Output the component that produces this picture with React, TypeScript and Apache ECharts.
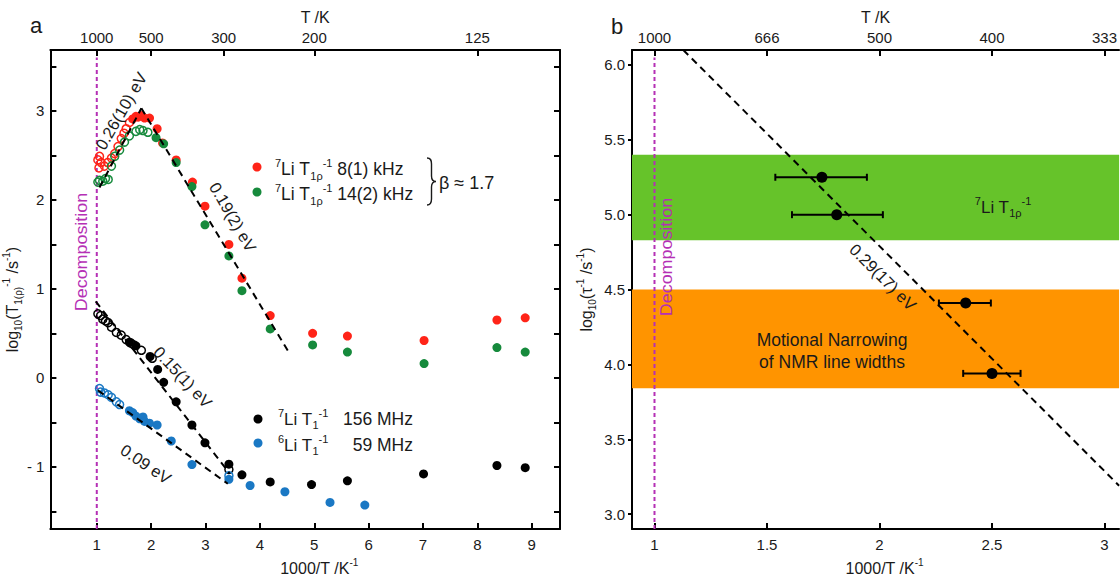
import React, { useEffect, useRef } from "react";
import * as echarts from "echarts";

const FONT = '"Liberation Sans", Arial, Helvetica, sans-serif';
const TXT = "#1a1a1a";
const MAG = "#b530b5";
const RED = "#ff2418";
const GREEN = "#168a3c";
const BLUE = "#1a78c4";
const BLACK = "#000000";
const BAND_GREEN = "#66c32a";
const BAND_ORANGE = "#ff9400";

// ---------- Panel a : log10(T1(rho)^-1 / s^-1) vs 1000/T ----------
const rho8kHzOpen = [
  [1.02, 2.45], [1.04, 2.36], [1.05, 2.49], [1.08, 2.42], [1.14, 2.38], [1.2, 2.42],
  [1.27, 2.47], [1.33, 2.52], [1.39, 2.6], [1.45, 2.69], [1.5, 2.75], [1.54, 2.8], [1.6, 2.87],
];
const rho8kHzFilled = [
  [1.66, 2.91], [1.72, 2.94], [1.76, 2.93], [1.82, 2.95], [1.88, 2.92], [1.97, 2.92],
  [2.11, 2.8], [2.21, 2.64], [2.46, 2.45], [2.76, 2.2], [2.99, 1.93], [3.43, 1.5],
  [3.67, 1.12], [4.19, 0.7], [4.97, 0.5], [5.61, 0.47], [7.02, 0.42], [8.36, 0.65], [8.88, 0.675],
];
const rho14kHzOpen = [
  [1.02, 2.2], [1.05, 2.22], [1.11, 2.21], [1.16, 2.24], [1.21, 2.23], [1.27, 2.38],
  [1.33, 2.49], [1.42, 2.56], [1.51, 2.65], [1.6, 2.72], [1.72, 2.77], [1.79, 2.79],
  [1.85, 2.78], [1.94, 2.76],
];
const rho14kHzFilled = [
  [2.09, 2.7], [2.23, 2.63], [2.46, 2.42], [2.75, 2.15], [2.99, 1.72], [3.43, 1.37],
  [3.67, 0.98], [4.19, 0.55], [4.97, 0.37], [5.61, 0.29], [7.02, 0.16], [8.36, 0.34], [8.88, 0.29],
];
const t1Li7Open = [
  [1.02, 0.72], [1.07, 0.7], [1.11, 0.66], [1.16, 0.64], [1.21, 0.62], [1.27, 0.57],
  [1.36, 0.51], [1.45, 0.48], [1.54, 0.43], [1.63, 0.39], [1.68, 0.37], [1.82, 0.31],
  [2.02, 0.22], [3.43, -1.03],
];
const t1Li7Filled = [
  [1.6, 0.4], [1.72, 0.36], [1.98, 0.24], [2.12, 0.095], [2.23, -0.05], [2.46, -0.27],
  [2.75, -0.53], [2.99, -0.73], [3.43, -0.97], [3.67, -1.09], [4.19, -1.17], [4.95, -1.2],
  [5.61, -1.157], [7.01, -1.08], [8.36, -0.985], [8.88, -1.01],
];
const t1Li6Open = [
  [1.05, -0.12], [1.07, -0.16], [1.14, -0.17], [1.21, -0.19], [1.27, -0.22], [1.36, -0.27],
  [1.42, -0.3], [3.43, -1.1],
];
const t1Li6Filled = [
  [1.6, -0.37], [1.66, -0.39], [1.72, -0.43], [1.79, -0.46], [1.85, -0.44], [1.88, -0.49],
  [1.97, -0.51], [2.11, -0.53], [2.37, -0.71], [2.75, -0.975], [3.43, -1.14], [3.82, -1.21],
  [4.46, -1.28], [5.29, -1.4], [5.93, -1.43],
];
const fit026 = [[1.05, 2.14], [1.82, 3.03]];
const fit019 = [[1.82, 3.03], [4.53, 0.29]];
const fit015 = [[0.98, 0.86], [3.44, -1.07]];
const fit009 = [[1.02, -0.14], [3.41, -1.19]];

const aXTicks = [1, 2, 3, 4, 5, 6, 7, 8, 9];
const aYTicks = [-1.5, -1, -0.5, 0, 0.5, 1, 1.5, 2, 2.5, 3, 3.5];
const aYLabels = [-1, 0, 1, 2, 3];
const aTopTickValues = [1, 2, 10 / 3, 5, 8];
const aTopTickLabels = ["1000", "500", "300", "200", "125"];

// ---------- Panel b : log10(tau^-1 / s^-1) vs 1000/T ----------
const tauPoints = [[1.744, 5.25], [1.81, 5.0], [2.383, 4.41], [2.5, 3.94]];
const tauXErrLow = [1.537, 1.611, 2.264, 2.372];
const tauXErrHigh = [1.944, 2.015, 2.495, 2.627];
const fit029 = [[1.128, 6.1], [3.065, 3.19]];
const bandT1rho = [4.83, 5.4];
const bandNarrowing = [3.84, 4.5];
const bXTicks = [1, 1.5, 2, 2.5, 3];
const bYTicks = [3, 3.5, 4, 4.5, 5, 5.5, 6];
const bTopTickValues = [1, 1.5, 2, 2.5, 3];
const bTopTickLabels = ["1000", "666", "500", "400", "333"];
const decompositionX = 1;

// axis ranges
const A_XMIN = 0.147, A_XMAX = 9.52, A_YMIN = -1.7, A_YMAX = 3.685;
const B_XMIN = 0.9, B_XMAX = 3.065, B_YMIN = 2.9, B_YMAX = 6.1;

// curly brace shape for the beta annotation
echarts.graphic.registerShape(
  "brace",
  echarts.graphic.extendPath(
    "M0,0 C3.5,0 4.5,2 4.5,6 L4.5,18 C4.5,21.5 6,23.5 9,23.5 C6,23.5 4.5,25.5 4.5,29 L4.5,41 C4.5,45 3.5,47 0,47",
    {}
  )
);

const rich = (size: number, color = TXT) => ({
  sup: { fontSize: Math.round(size * 0.62), verticalAlign: "top", fontFamily: FONT, color },
  sub: { fontSize: Math.round(size * 0.62), verticalAlign: "bottom", fontFamily: FONT, color },
});

const pickLabel = (vals: number[], labels: string[]) => (v: number) => {
  let best = 0;
  for (let i = 1; i < vals.length; i++) if (Math.abs(vals[i] - v) < Math.abs(vals[best] - v)) best = i;
  return labels[best];
};

const lineAxis = { show: true, onZero: false, lineStyle: { color: BLACK, width: 2 } };
const tickStyle = { color: BLACK, width: 2 };
const labelStyle = { fontSize: 15, fontFamily: FONT, color: TXT };

const text = (
  x: number, y: number, t: string, size: number,
  opt: { rot?: number; align?: string; color?: string; scaleX?: number } = {}
) => ({
  type: "text",
  x, y,
  rotation: ((opt.rot || 0) * Math.PI) / 180,
  scaleX: opt.scaleX || 1,
  silent: true,
  z: 50,
  style: {
    text: t,
    fontSize: size,
    fontFamily: FONT,
    fill: opt.color || TXT,
    align: opt.align || "center",
    verticalAlign: "middle",
    lineHeight: Math.round(size * 1.35),
    rich: rich(size, opt.color || TXT),
  },
});

const dot = (x: number, y: number, color: string) => ({
  type: "circle", shape: { cx: x, cy: y, r: 4.5 }, style: { fill: color }, silent: true, z: 50,
});

const openScatter = (data: number[][], color: string) => ({
  type: "scatter", xAxisIndex: 0, yAxisIndex: 0, data, symbol: "circle", symbolSize: 8,
  itemStyle: { color: "rgba(255,255,255,0)", borderColor: color, borderWidth: 1.5, opacity: 1 }, z: 3,
});
const filledScatter = (data: number[][], color: string) => ({
  type: "scatter", xAxisIndex: 0, yAxisIndex: 0, data, symbol: "circle", symbolSize: 9,
  itemStyle: { color, opacity: 1 }, z: 4,
});
const fitLine = (data: number[][], xi: number, yi: number) => ({
  type: "line", xAxisIndex: xi, yAxisIndex: yi, data, symbol: "none", silent: true,
  lineStyle: { color: BLACK, width: 2, type: [7, 5] }, z: 6,
});

export default function App() {
  const ref = useRef<HTMLDivElement>(null);
  useEffect(() => {
    if (!ref.current) return;
    const chart = echarts.init(ref.current, null, { renderer: "svg" });
    const option: any = {
      animation: false,
      backgroundColor: "#ffffff",
      grid: [
        { left: 49, top: 50, width: 511, height: 495 },
        { left: 632, top: 50, width: 488, height: 497 },
      ],
      xAxis: [
        {
          gridIndex: 0, type: "value", position: "bottom", min: A_XMIN, max: A_XMAX,
          axisLine: lineAxis,
          axisTick: { show: true, inside: true, length: 6, lineStyle: tickStyle, customValues: aXTicks },
          axisLabel: { ...labelStyle, margin: 8, customValues: aXTicks },
          splitLine: { show: false },
          name: "1000/T /K{sup|-1}", nameLocation: "middle", nameGap: 21,
          nameTextStyle: { fontSize: 16, fontFamily: FONT, color: TXT, lineHeight: 22, rich: rich(16), padding: [0, 0, 0, 28] },
        },
        {
          gridIndex: 0, type: "value", position: "top", min: A_XMIN, max: A_XMAX,
          axisLine: lineAxis,
          axisTick: { show: true, inside: true, length: 6, lineStyle: tickStyle, customValues: aTopTickValues },
          axisLabel: { ...labelStyle, margin: 5, customValues: aTopTickValues, formatter: pickLabel(aTopTickValues, aTopTickLabels) },
          splitLine: { show: false },
          name: "T /K", nameLocation: "middle", nameGap: 18,
          nameTextStyle: { fontSize: 16, fontFamily: FONT, color: TXT, padding: [0, 0, 0, 20] },
        },
        {
          gridIndex: 1, type: "value", position: "bottom", min: B_XMIN, max: B_XMAX,
          axisLine: lineAxis,
          axisTick: { show: true, inside: true, length: 6, lineStyle: tickStyle, customValues: bXTicks },
          axisLabel: { ...labelStyle, margin: 8, customValues: bXTicks },
          splitLine: { show: false },
          name: "1000/T /K{sup|-1}", nameLocation: "middle", nameGap: 21,
          nameTextStyle: { fontSize: 16, fontFamily: FONT, color: TXT, lineHeight: 22, rich: rich(16), padding: [0, 0, 0, 18] },
        },
        {
          gridIndex: 1, type: "value", position: "top", min: B_XMIN, max: B_XMAX,
          axisLine: lineAxis,
          axisTick: { show: true, inside: true, length: 6, lineStyle: tickStyle, customValues: bTopTickValues },
          axisLabel: { ...labelStyle, margin: 5, customValues: bTopTickValues, formatter: pickLabel(bTopTickValues, bTopTickLabels) },
          splitLine: { show: false },
          name: "T /K", nameLocation: "middle", nameGap: 18,
          nameTextStyle: { fontSize: 16, fontFamily: FONT, color: TXT, padding: [0, 0, 0, 0] },
        },
      ],
      yAxis: [
        {
          gridIndex: 0, type: "value", position: "left", min: A_YMIN, max: A_YMAX,
          axisLine: lineAxis,
          axisTick: { show: true, inside: true, length: 6, lineStyle: tickStyle, customValues: aYTicks },
          axisLabel: { ...labelStyle, margin: 6, customValues: aYLabels, formatter: (v: number) => (v < 0 ? "- " + Math.abs(v) : String(v)) },
          splitLine: { show: false },
          name: "log{sub|10}(T{sub|1(ρ)}{sup|-1} /s{sup|-1})", nameLocation: "middle", nameGap: 18,
          nameTextStyle: { fontSize: 16, fontFamily: FONT, color: TXT, lineHeight: 22, rich: rich(16), padding: [0, 20, 0, 0] },
        },
        {
          gridIndex: 0, type: "value", position: "right", min: A_YMIN, max: A_YMAX,
          axisLine: lineAxis,
          axisTick: { show: true, inside: true, length: 6, lineStyle: tickStyle, customValues: aYTicks },
          axisLabel: { show: false },
          splitLine: { show: false },
        },
        {
          gridIndex: 1, type: "value", position: "left", min: B_YMIN, max: B_YMAX,
          axisLine: lineAxis,
          axisTick: { show: true, inside: false, length: 4, lineStyle: tickStyle, customValues: bYTicks },
          axisLabel: { ...labelStyle, margin: 7, customValues: bYTicks, formatter: (v: number) => v.toFixed(1) },
          splitLine: { show: false },
          name: "log{sub|10}(τ{sup|-1} /s{sup|-1})", nameLocation: "middle", nameGap: 35,
          nameTextStyle: { fontSize: 16, fontFamily: FONT, color: TXT, lineHeight: 22, rich: rich(16) },
        },
      ],
      series: [
        // panel a
        {
          type: "line", xAxisIndex: 0, yAxisIndex: 0, symbol: "none", silent: true, z: 2,
          data: [[decompositionX, A_YMIN], [decompositionX, 3.6]],
          lineStyle: { color: MAG, width: 2, type: [4, 3] },
        },
        openScatter(rho8kHzOpen, RED),
        openScatter(rho14kHzOpen, GREEN),
        openScatter(t1Li7Open, BLACK),
        openScatter(t1Li6Open, BLUE),
        filledScatter(rho8kHzFilled, RED),
        filledScatter(rho14kHzFilled, GREEN),
        filledScatter(t1Li7Filled, BLACK),
        filledScatter(t1Li6Filled, BLUE),
        fitLine(fit026, 0, 0),
        fitLine(fit019, 0, 0),
        fitLine(fit015, 0, 0),
        fitLine(fit009, 0, 0),
        // panel b
        {
          type: "custom", xAxisIndex: 2, yAxisIndex: 2, silent: true, z: 1, clip: true,
          data: [[bandT1rho[0], bandT1rho[1]], [bandNarrowing[0], bandNarrowing[1]]],
          renderItem: (params: any, api: any) => {
            const lo = api.value(0), hi = api.value(1);
            const p0 = api.coord([B_XMIN, hi]);
            const p1 = api.coord([B_XMAX, lo]);
            return {
              type: "rect",
              shape: { x: p0[0], y: p0[1], width: p1[0] - p0[0], height: p1[1] - p0[1] },
              style: { fill: params.dataIndex === 0 ? BAND_GREEN : BAND_ORANGE },
            };
          },
        },
        {
          type: "line", xAxisIndex: 2, yAxisIndex: 2, symbol: "none", silent: true, z: 2,
          data: [[decompositionX, B_YMIN], [decompositionX, 6.05]],
          lineStyle: { color: MAG, width: 2, type: [4, 3] },
        },
        fitLine(fit029, 2, 2),
        {
          type: "custom", xAxisIndex: 2, yAxisIndex: 2, silent: true, z: 7,
          data: tauPoints.map((p, i) => [p[0], p[1], tauXErrLow[i], tauXErrHigh[i]]),
          renderItem: (_params: any, api: any) => {
            const y = api.value(1);
            const a = api.coord([api.value(2), y]);
            const b = api.coord([api.value(3), y]);
            const st = { stroke: BLACK, lineWidth: 2 };
            return {
              type: "group",
              children: [
                { type: "line", shape: { x1: a[0], y1: a[1], x2: b[0], y2: b[1] }, style: st },
                { type: "line", shape: { x1: a[0], y1: a[1] - 3.5, x2: a[0], y2: a[1] + 3.5 }, style: st },
                { type: "line", shape: { x1: b[0], y1: b[1] - 3.5, x2: b[0], y2: b[1] + 3.5 }, style: st },
              ],
            };
          },
        },
        {
          type: "scatter", xAxisIndex: 2, yAxisIndex: 2, data: tauPoints, symbol: "circle",
          symbolSize: 11, itemStyle: { color: BLACK, opacity: 1 }, z: 8,
        },
      ],
      graphic: [
        text(36, 25, "a", 22),
        text(617, 26, "b", 22),
        // panel a annotations
        text(82, 252, "Decomposition", 16, { rot: 90, color: MAG, scaleX: 1.12 }),
        text(121, 111, "0.26(10) eV", 16.5, { rot: 60 }),
        text(233, 217, "0.19(2) eV", 16.5, { rot: -60 }),
        text(183, 377, "0.15(1) eV", 16.5, { rot: -47 }),
        text(146, 464, "0.09 eV", 16.5, { rot: -34 }),
        // legends
        dot(257, 167, RED),
        text(275, 169, "{sup|7}Li T{sub|1ρ}{sup|-1} 8(1) kHz", 17.5, { align: "left" }),
        dot(257, 192, GREEN),
        text(275, 194, "{sup|7}Li T{sub|1ρ}{sup|-1} 14(2) kHz", 17.5, { align: "left" }),
        {
          type: "brace", x: 427, y: 158, silent: true, z: 50,
          style: { stroke: TXT, fill: "none", lineWidth: 1.4 },
        },
        text(439, 183, "β ≈ 1.7", 18, { align: "left" }),
        dot(258, 419, BLACK),
        text(278, 419, "{sup|7}Li T{sub|1}{sup|-1}", 17, { align: "left" }),
        text(413, 419, "156 MHz", 17.5, { align: "right" }),
        dot(258, 443, BLUE),
        text(278, 445, "{sup|6}Li T{sub|1}{sup|-1}", 17, { align: "left" }),
        text(413, 445, "59 MHz", 17.5, { align: "right" }),
        // panel b annotations
        text(667, 257, "Decomposition", 16, { rot: 90, color: MAG, scaleX: 1.12 }),
        text(883, 277, "0.29(17) eV", 16.5, { rot: -45 }),
        text(1003, 207, "{sup|7}Li T{sub|1ρ}{sup|-1}", 17),
        text(832, 340, "Motional Narrowing", 17.5),
        text(832, 362, "of NMR line widths", 17.5),
      ],
    };
    chart.setOption(option);
    return () => chart.dispose();
  }, []);
  return (
    <div
      ref={ref}
      style={{ position: "absolute", left: 0, top: 0, width: 1120, height: 584, background: "#fff" }}
    />
  );
}
